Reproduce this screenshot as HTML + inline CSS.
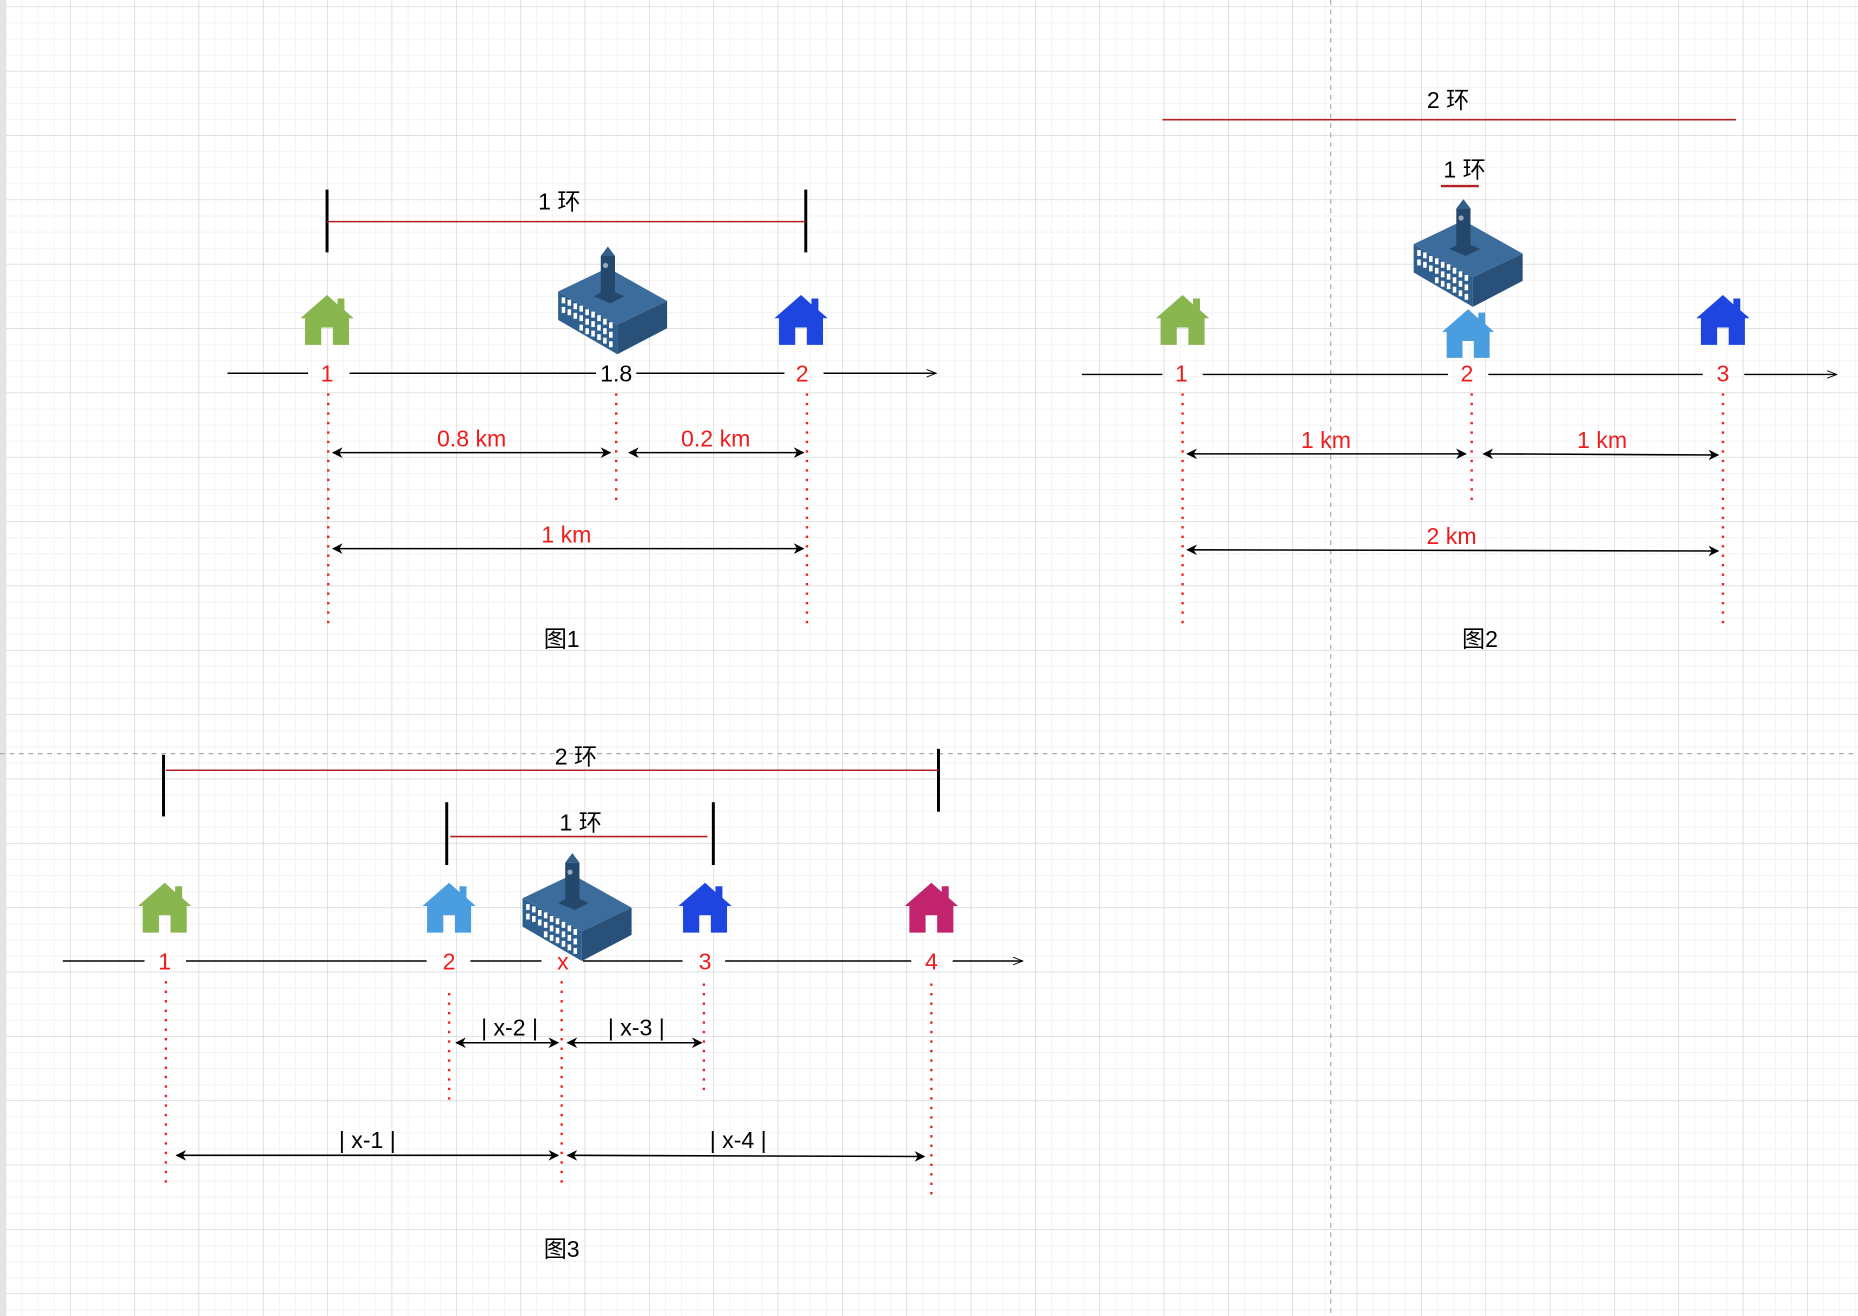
<!DOCTYPE html>
<html><head><meta charset="utf-8"><style>
html,body{margin:0;padding:0;background:#fff;}
svg{display:block;}
text{font-family:"Liberation Sans","Noto Sans CJK SC",sans-serif;}
</style></head><body>
<svg width="1858" height="1316" viewBox="0 0 1568 1110.6" xmlns="http://www.w3.org/2000/svg">
<defs>
<pattern id="minor" x="4.7" y="5.5" width="13.575" height="13.575" patternUnits="userSpaceOnUse">
<path d="M0,0 H13.575 M0,0 V13.575" stroke="#efefef" stroke-width="1.2" fill="none"/>
</pattern>
<pattern id="major" x="4.7" y="5.5" width="54.3" height="54.3" patternUnits="userSpaceOnUse">
<path d="M0,0 H54.3 M0,0 V54.3" stroke="#cfcfcf" stroke-width="0.9" fill="none"/>
</pattern>
<marker id="ah" viewBox="0 0 10 10" refX="9" refY="5" markerWidth="9" markerHeight="9" orient="auto-start-reverse" markerUnits="userSpaceOnUse">
<path d="M0,0 L10,5 L0,10 L3,5 z" fill="#000"/>
</marker>
<marker id="oa" viewBox="0 0 10 10" refX="10" refY="5" markerWidth="10" markerHeight="8" orient="auto" markerUnits="userSpaceOnUse">
<path d="M0,1 L10,5 L0,9" fill="none" stroke="#000" stroke-width="1"/>
</marker>
<symbol id="house" viewBox="0 0 46 44" overflow="visible">
<path d="M23,0 L32,8 V3 H38 V13 L46,20 H42 V43 H28 V28 H18 V43 H4 V20 H0 Z"/>
</symbol>
<symbol id="bld" viewBox="0 0 92 92" overflow="visible">
<polygon points="0,38 42,18 92,46 50,66" fill="#3c6c9c"/>
<polygon points="0,38 50,66 50,91 0,62" fill="#2f5f8f"/>
<polygon points="50,66 92,46 92,69 50,91" fill="#285078"/>
<g fill="#fff">
<rect x="3" y="43" width="3" height="5"/><rect x="8" y="45" width="3" height="5"/><rect x="13" y="48" width="3" height="5"/><rect x="18" y="50" width="3" height="5"/><rect x="23" y="53" width="3" height="5"/><rect x="28" y="55" width="3" height="5"/><rect x="33" y="58" width="3" height="5"/><rect x="38" y="61" width="3" height="5"/><rect x="43" y="64" width="3" height="5"/>
<rect x="3" y="51" width="3" height="5"/><rect x="8" y="53" width="3" height="5"/><rect x="13" y="56" width="3" height="5"/><rect x="18" y="58" width="3" height="5"/><rect x="23" y="61" width="3" height="5"/><rect x="28" y="63" width="3" height="5"/><rect x="33" y="66" width="3" height="5"/><rect x="38" y="69" width="3" height="5"/><rect x="43" y="72" width="3" height="5"/>
<rect x="18" y="66" width="3" height="5"/><rect x="23" y="69" width="3" height="5"/><rect x="28" y="71" width="3" height="5"/><rect x="33" y="74" width="3" height="5"/><rect x="38" y="77" width="3" height="5"/><rect x="43" y="80" width="3" height="5"/>
</g>
<polygon points="30,42 42,36 56,42 44,48" fill="#24476c"/>
<rect x="36" y="8" width="12" height="36" fill="#24476c"/>
<polygon points="36,8 42,0 48,8" fill="#335e8a"/>
<circle cx="40" cy="16" r="2.2" fill="#9ab"/>
</symbol>
</defs>
<rect width="1568" height="1111" fill="#fff"/>
<rect width="1568" height="1111" fill="url(#minor)"/>
<rect width="1568" height="1111" fill="url(#major)"/>
<rect x="0" y="0" width="5" height="1111" fill="#e4e4e6"/>
<line x1="1123" y1="0" x2="1123" y2="1111" stroke="#aaa" stroke-dasharray="4 4"/>
<line x1="0" y1="636" x2="1568" y2="636" stroke="#aaa" stroke-dasharray="4 4"/>

<g stroke="#000" stroke-width="1.2" fill="none">
<path d="M192,315 H260 M295,315 H503 M537,315 H662"/>
<line x1="695" y1="315" x2="790" y2="315" marker-end="url(#oa)"/>
<path d="M913,316 H981 M1015,316 H1222 M1256,316 H1437"/>
<line x1="1472" y1="316" x2="1550" y2="316" marker-end="url(#oa)"/>
<path d="M53,811 H122 M157,811 H360 M397,811 H457 M492,811 H576 M612,811 H769"/>
<line x1="804" y1="811" x2="863" y2="811" marker-end="url(#oa)"/>
</g>
<g stroke="#000" stroke-width="2.5">
<line x1="276" y1="160" x2="276" y2="213"/><line x1="680" y1="160" x2="680" y2="213"/>
<line x1="138" y1="637" x2="138" y2="689"/><line x1="792" y1="632" x2="792" y2="685"/>
<line x1="377" y1="677" x2="377" y2="730"/><line x1="602" y1="677" x2="602" y2="730"/>
</g>
<g stroke="#b22222" stroke-width="1.3">
<line x1="276" y1="187" x2="680" y2="187"/>
<line x1="981" y1="101" x2="1465" y2="101"/>
<line x1="1216" y1="157" x2="1248" y2="157" stroke-width="2"/>
<line x1="140" y1="650" x2="792" y2="650"/>
<line x1="380" y1="706" x2="597" y2="706"/>
</g>
<g stroke="#f02020" stroke-width="2" stroke-dasharray="2 6">
<line x1="277" y1="332" x2="277" y2="530"/><line x1="520" y1="332" x2="520" y2="422"/><line x1="681" y1="332" x2="681" y2="530"/>
<line x1="998" y1="332" x2="998" y2="530"/><line x1="1242" y1="332" x2="1242" y2="425"/><line x1="1454" y1="332" x2="1454" y2="530"/>
<line x1="140" y1="828" x2="140" y2="1000"/><line x1="379" y1="838" x2="379" y2="933"/><line x1="474" y1="828" x2="474" y2="1000"/><line x1="594" y1="830" x2="594" y2="920"/><line x1="786" y1="830" x2="786" y2="1012"/>
</g>
<g stroke="#000" stroke-width="1.3">
<line x1="281" y1="382" x2="515" y2="382" marker-start="url(#ah)" marker-end="url(#ah)"/>
<line x1="531" y1="382" x2="678" y2="382" marker-start="url(#ah)" marker-end="url(#ah)"/>
<line x1="281" y1="463" x2="678" y2="463" marker-start="url(#ah)" marker-end="url(#ah)"/>
<line x1="1002" y1="383" x2="1237" y2="383" marker-start="url(#ah)" marker-end="url(#ah)"/>
<line x1="1252" y1="383" x2="1450" y2="384" marker-start="url(#ah)" marker-end="url(#ah)"/>
<line x1="1002" y1="464" x2="1450" y2="465" marker-start="url(#ah)" marker-end="url(#ah)"/>
<line x1="385" y1="880" x2="471" y2="880" marker-start="url(#ah)" marker-end="url(#ah)"/>
<line x1="479" y1="880" x2="592" y2="880" marker-start="url(#ah)" marker-end="url(#ah)"/>
<line x1="149" y1="975" x2="471" y2="975" marker-start="url(#ah)" marker-end="url(#ah)"/>
<line x1="479" y1="975" x2="780" y2="976" marker-start="url(#ah)" marker-end="url(#ah)"/>
</g>
<use href="#house" x="253" y="249" width="46" height="43" fill="#8ab650"/>
<use href="#house" x="653" y="249" width="46" height="43" fill="#1f45e0"/>
<use href="#house" x="975" y="249" width="46" height="43" fill="#8ab650"/>
<use href="#house" x="1216" y="261" width="46" height="42" fill="#4a9ee0"/>
<use href="#house" x="1431" y="249" width="46" height="43" fill="#1f45e0"/>
<use href="#house" x="116" y="745" width="46" height="43" fill="#8ab650"/>
<use href="#house" x="356" y="745" width="46" height="43" fill="#4a9ee0"/>
<use href="#house" x="572" y="745" width="46" height="43" fill="#1f45e0"/>
<use href="#house" x="763" y="745" width="46" height="43" fill="#c2246e"/>
<use href="#bld" x="471" y="208" width="92" height="92"/>
<use href="#bld" x="1193" y="168" width="92" height="92"/>
<use href="#bld" x="441" y="720" width="92" height="92"/>
<g font-size="19.5" text-anchor="middle" fill="#000">
<text x="472" y="177">1 环</text>
<text x="1222" y="91">2 环</text>
<text x="1236" y="150">1 环</text>
<text x="486" y="645">2 环</text>
<text x="490" y="701">1 环</text>
<text x="520" y="322">1.8</text>
<text x="474" y="546">图1</text>
<text x="1249" y="546">图2</text>
<text x="474" y="1061">图3</text>
<text x="430" y="874">| x-2 |</text>
<text x="537" y="874">| x-3 |</text>
<text x="310" y="969">| x-1 |</text>
<text x="623" y="969">| x-4 |</text>
</g>
<g font-size="19.5" text-anchor="middle" fill="#ee1c1c">
<text x="276" y="322">1</text><text x="677" y="322">2</text>
<text x="997" y="322">1</text><text x="1238" y="322">2</text><text x="1454" y="322">3</text>
<text x="139" y="818">1</text><text x="379" y="818">2</text><text x="475" y="818">x</text><text x="595" y="818">3</text><text x="786" y="818">4</text>
<text x="398" y="377">0.8 km</text><text x="604" y="377">0.2 km</text><text x="478" y="458">1 km</text>
<text x="1119" y="378">1 km</text><text x="1352" y="378">1 km</text><text x="1225" y="459">2 km</text>
</g>
</svg>
</body></html>
